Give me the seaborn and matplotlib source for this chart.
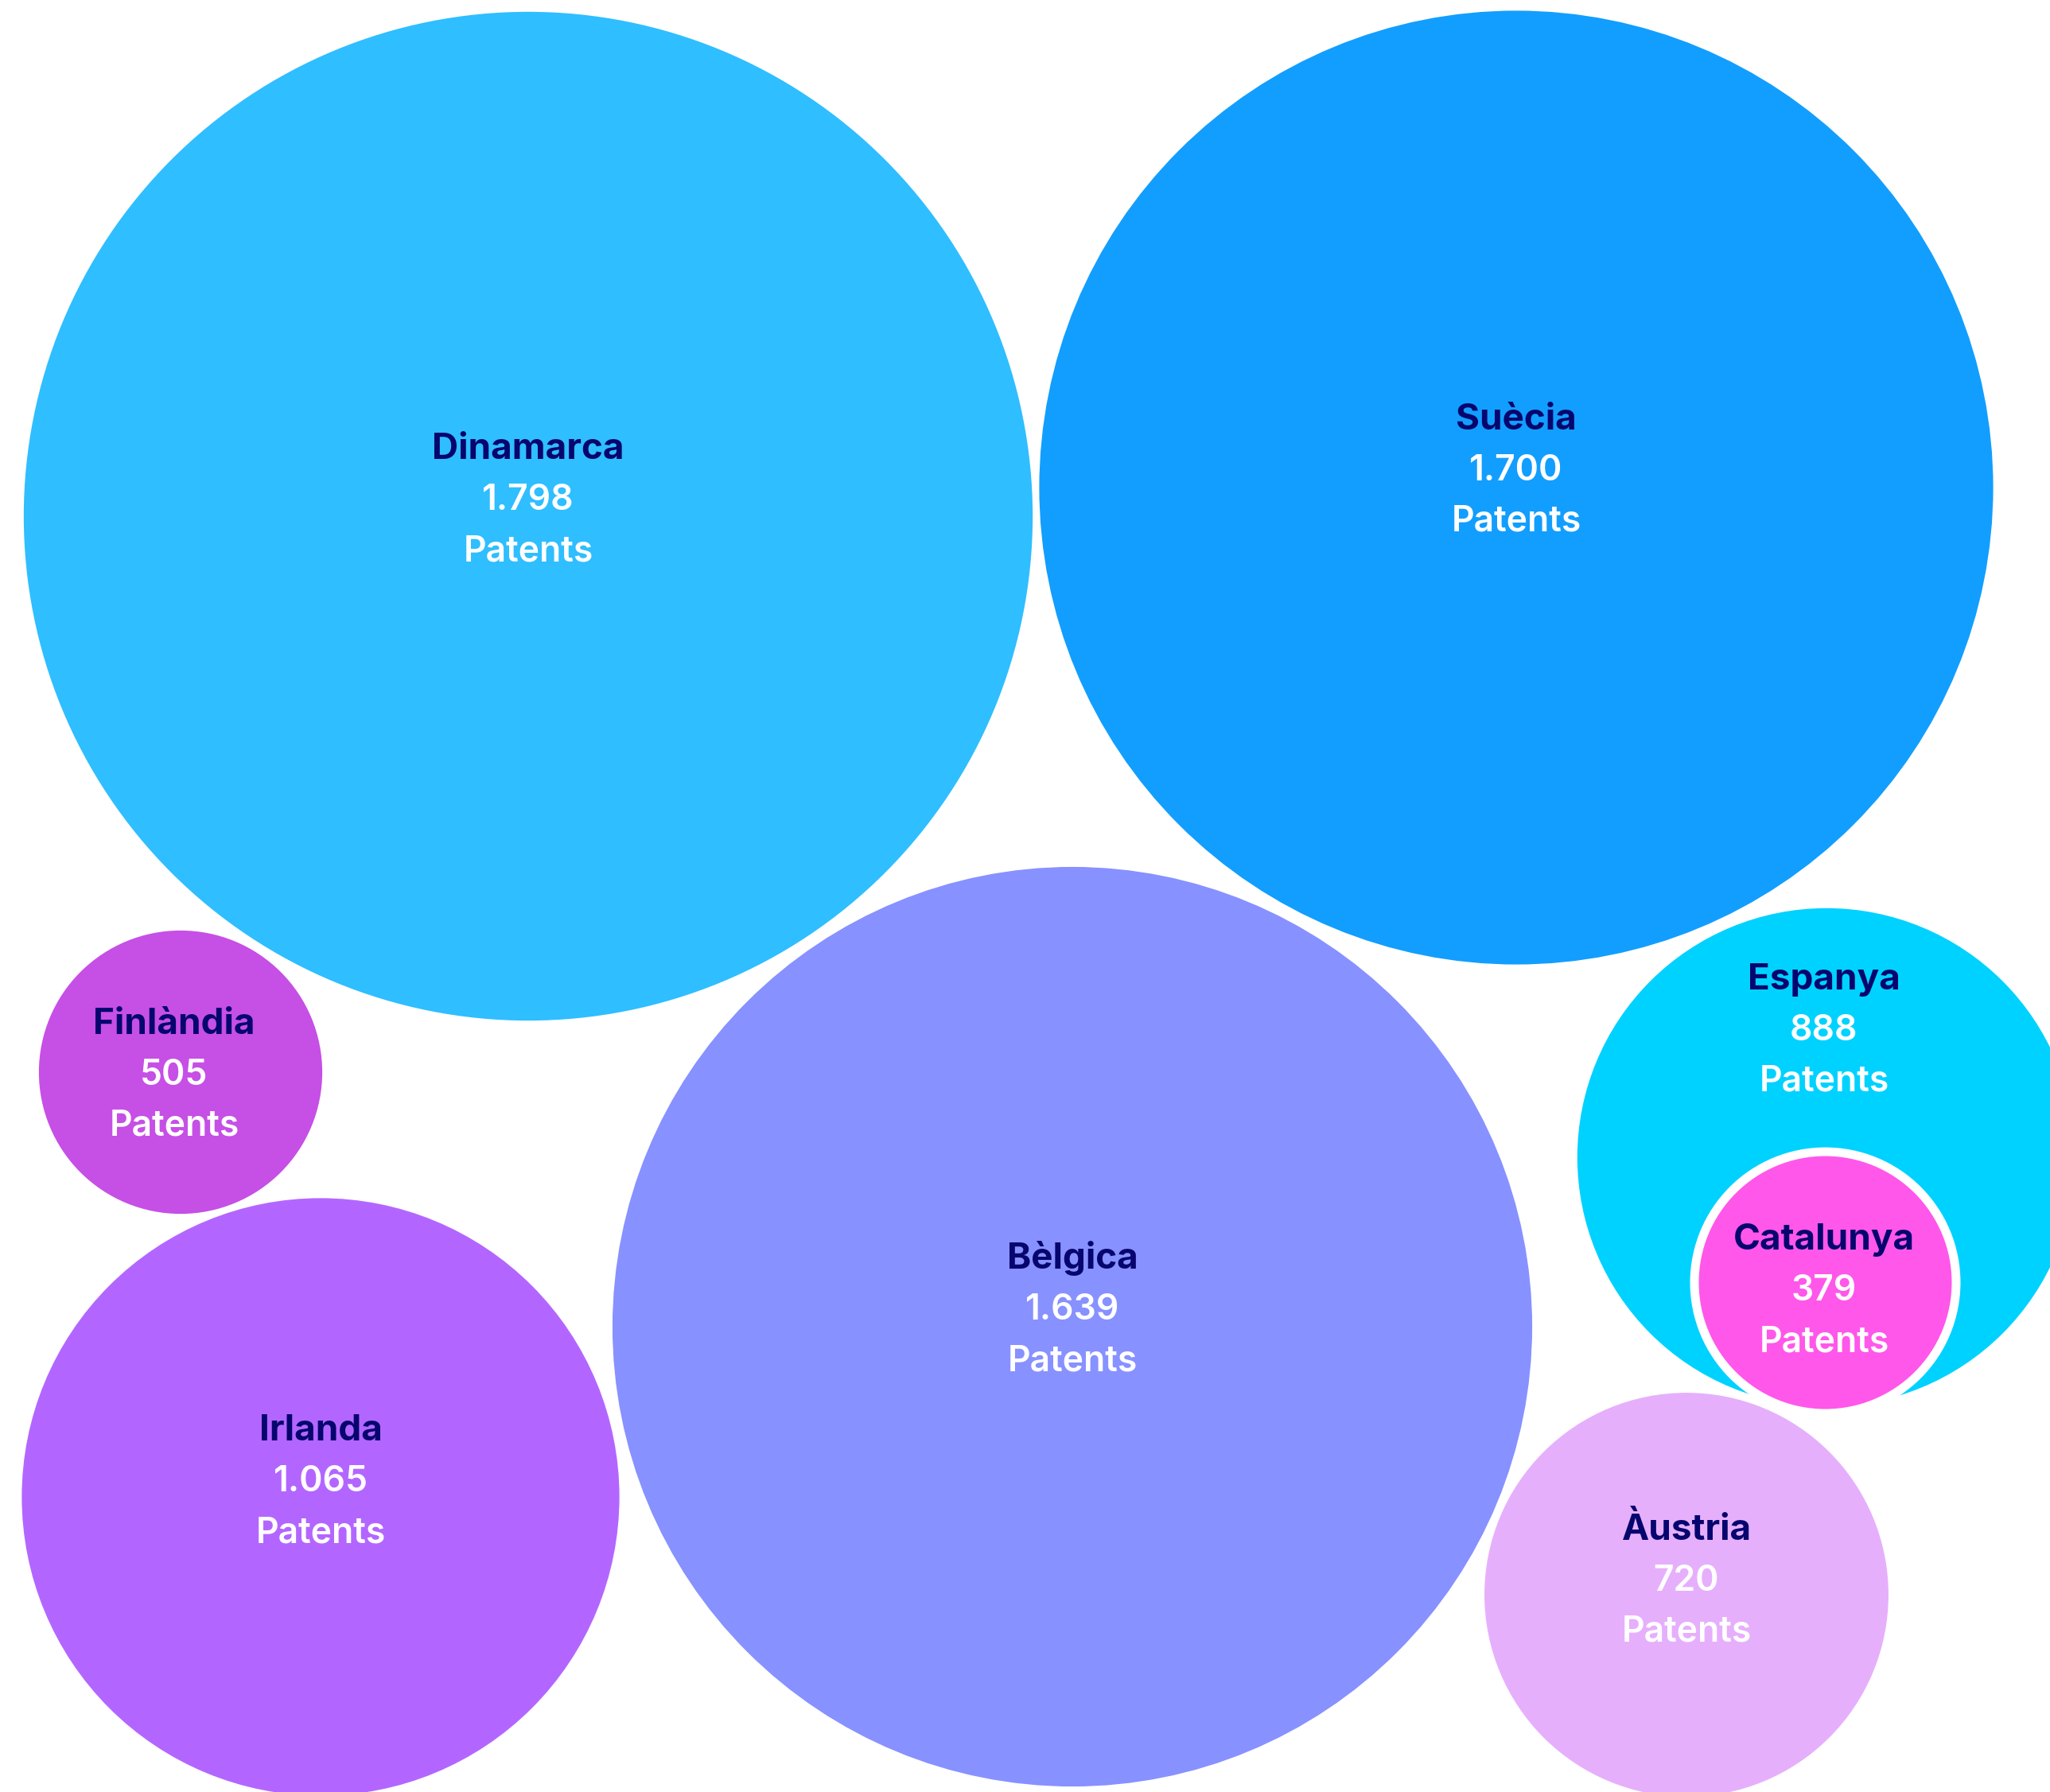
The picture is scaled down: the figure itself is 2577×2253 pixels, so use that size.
import matplotlib
matplotlib.use("Agg")
import matplotlib.pyplot as plt
import seaborn as sns
import pandas as pd

# ---- data ----
countries = ["Dinamarca", "Suècia", "Bèlgica", "Irlanda", "Finlàndia", "Espanya", "Àustria", "Catalunya"]
patents = [1798, 1700, 1639, 1065, 505, 888, 720, 379]
series = ["Europa", "Europa", "Europa", "Europa", "Europa", "Europa", "Europa", "Catalunya"]
unit_label = "Patents"

# ---- layout (packed-bubble positions, pixels) ----
center_x = [664, 1906, 1348, 403, 227, 2296, 2120, 2294]
center_y = [649, 613, 1668, 1882, 1348, 1455, 2005, 1612]
label_x = [664, 1906, 1348, 403, 219, 2293, 2120, 2293]
label_y = [625, 588, 1643, 1859, 1348, 1292, 1984, 1619]
colors = {"Dinamarca": "#2FBEFF", "Suècia": "#129EFE", "Bèlgica": "#8791FF",
          "Irlanda": "#B366FF", "Finlàndia": "#C64FE6", "Espanya": "#00D2FF",
          "Àustria": "#E6AFFC", "Catalunya": "#FF57EA"}
px_per_patent = {"Europa": 0.3527, "Catalunya": 0.4485}
ring_px = 11

W, H, DPI = 2577, 2253, 100

def fmt(v):
    return f"{v:,}".replace(",", ".")

df = pd.DataFrame({"country": countries, "patents": patents, "series": series,
                   "x": center_x, "y": center_y})
df["r_px"] = [p * px_per_patent[s] for p, s in zip(df.patents, df.series)]
df["s"] = (2 * df.r_px * 72 / DPI) ** 2

sns.set_theme(style="white")
plt.rcParams["font.family"] = ["Inter", "DejaVu Sans"]

fig = plt.figure(figsize=(W / DPI, H / DPI), dpi=DPI)
ax = fig.add_axes([0, 0, 1, 1])
ax.set_xlim(0, W)
ax.set_ylim(H, 0)
ax.set_aspect("equal")
ax.axis("off")

main = df[df.series == "Europa"]
cat = df[df.series == "Catalunya"]
sns.scatterplot(data=main, x="x", y="y", hue="country", palette=colors,
                size="s", sizes=(main.s.min(), main.s.max()), size_norm=(main.s.min(), main.s.max()),
                linewidth=0, legend=False, ax=ax, zorder=2)
cat_s = (2 * (cat.r_px.iloc[0] - ring_px / 2) * 72 / DPI) ** 2
sns.scatterplot(data=cat, x="x", y="y", hue="country", palette=colors,
                s=cat_s, edgecolor="white", linewidth=ring_px * 72 / DPI,
                legend=False, ax=ax, zorder=3)

line = 64
for c, v, lx, ly in zip(countries, patents, label_x, label_y):
    ax.text(lx, ly - line + 16, c, ha="center", va="baseline", fontsize=33,
            fontweight="bold", color="#06066E", zorder=5)
    ax.text(lx, ly + 16, fmt(v), ha="center", va="baseline", fontsize=32,
            fontweight="semibold", color="white", zorder=5)
    ax.text(lx, ly + line + 16, unit_label, ha="center", va="baseline", fontsize=32,
            fontweight="semibold", color="white", zorder=5)

fig.savefig("out.png", dpi=DPI, facecolor="white")
